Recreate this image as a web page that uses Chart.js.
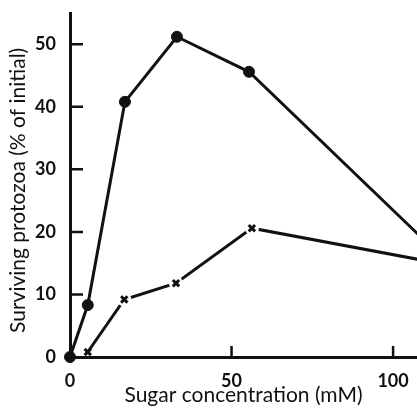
<!DOCTYPE html>
<html>
<head>
<meta charset="utf-8">
<script src="https://cdn.jsdelivr.net/npm/chart.js@4/dist/chart.umd.min.js"></script>
<style>
  html, body { margin: 0; padding: 0; background: #fff; }
  canvas { display: block; }
</style>
</head>
<body>
<canvas id="sugarChart" width="417" height="409" style="width:417px;height:409px"></canvas>
<script>
// Survival of protozoa vs sugar concentration

const sugarDots = [0, 5.5, 17.0, 33.1, 55.4, 110];
const survivalDots = [0, 8.3, 40.8, 51.2, 45.6, 18.5];

const sugarCross = [5.5, 16.8, 32.8, 56.3, 110];
const survivalCross = [0.8, 9.2, 11.8, 20.6, 15.4];

const xTicks = [0, 50, 100];
const yTicks = [0, 10, 20, 30, 40, 50];

const xMax = 107.4;
const yMax = 55;

const INK = '#111';
const FONT = 'Lato, "Open Sans", sans-serif';

const pts = (xs, ys) => xs.map((x, i) => ({ x, y: ys[i] }));

// inward tick marks, drawn from the scales themselves
const innerTicks = {
    id: 'innerTicks',
    afterDraw(chart) {
        const { ctx, scales: { x, y } } = chart;
        ctx.save();
        ctx.strokeStyle = INK;
        ctx.lineWidth = 2.5;
        ctx.beginPath();
        x.ticks.forEach(t => {
            if (t.value === 0) return;
            const px = x.getPixelForValue(t.value);
            ctx.moveTo(px, y.bottom);
            ctx.lineTo(px, y.bottom - 11);
        });
        y.ticks.forEach(t => {
            if (t.value === 0) return;
            const py = y.getPixelForValue(t.value);
            ctx.moveTo(x.left, py);
            ctx.lineTo(x.left + 13, py);
        });
        ctx.stroke();
        ctx.restore();
    }
};

new Chart(document.getElementById('sugarChart').getContext('2d'), {
    type: 'scatter',
    data: {
        datasets: [
            {
                // cross markers on top
                data: pts(sugarCross, survivalCross),
                showLine: false,
                pointStyle: 'crossRot',
                pointRadius: 4.5,
                borderColor: INK,
                pointBorderWidth: 3,
                order: 0
            },
            {
                // white halo that makes the gap round each cross
                data: pts(sugarCross, survivalCross),
                showLine: false,
                pointStyle: 'circle',
                pointRadius: [0, 7, 7, 7, 0],
                backgroundColor: '#fff',
                borderColor: '#fff',
                pointBorderWidth: 0,
                order: 1
            },
            {
                data: pts(sugarCross, survivalCross),
                showLine: true,
                borderColor: INK,
                borderWidth: 3,
                pointRadius: 0,
                order: 2
            },
            {
                data: pts(sugarDots, survivalDots),
                showLine: true,
                borderColor: INK,
                borderWidth: 3,
                pointStyle: 'circle',
                pointRadius: 5.5,
                pointBackgroundColor: INK,
                pointBorderColor: INK,
                pointBorderWidth: 1,
                order: 3
            }
        ]
    },
    options: {
        responsive: false,
        animation: false,
        clip: false,
        layout: { autoPadding: false, padding: { top: 13, right: 0, bottom: 0, left: 0 } },
        plugins: { legend: { display: false }, tooltip: { enabled: false } },
        scales: {
            x: {
                type: 'linear', min: 0, max: xMax,
                afterFit: s => { s.height = 52; s.paddingLeft = 0; s.paddingRight = 0; },
                afterBuildTicks: s => { s.ticks = xTicks.map(v => ({ value: v })); },
                grid: { display: false, drawTicks: false },
                border: { display: true, color: INK, width: 3 },
                ticks: { color: INK, padding: 13, maxRotation: 0, font: { family: FONT, size: 18, weight: 'bold' } },
                title: {
                    display: true, text: 'Sugar concentration (mM)', color: INK,
                    padding: { top: 0, bottom: 1.5 },
                    font: { family: FONT, size: 21 }
                }
            },
            y: {
                type: 'linear', min: 0, max: yMax,
                afterFit: s => { s.width = 70; s.paddingTop = 0; s.paddingBottom = 0; },
                afterBuildTicks: s => { s.ticks = yTicks.map(v => ({ value: v })); },
                grid: { display: false, drawTicks: false },
                border: { display: true, color: INK, width: 3 },
                ticks: { color: INK, padding: 14, font: { family: FONT, size: 18, weight: 'bold' } },
                title: {
                    // trailing spaces nudge the rotated title a little lower, as in the original
                    display: true, text: 'Surviving protozoa (% of initial)  ', color: INK,
                    padding: { top: 5.5, bottom: 0 },
                    font: { family: FONT, size: 21 }
                }
            }
        }
    },
    plugins: [innerTicks]
});
</script>
</body>
</html>
